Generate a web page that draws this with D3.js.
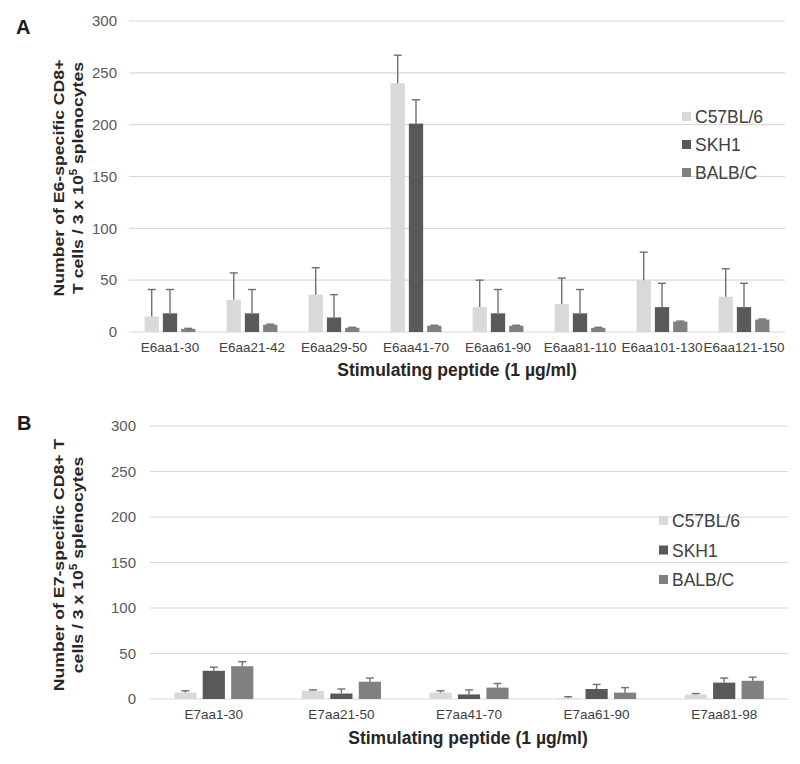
<!DOCTYPE html>
<html lang="en">
<head>
  <meta charset="UTF-8">
  <title>E6 / E7 specific CD8+ T cells</title>
  <style>
    body { margin: 0; background: #fff; }
    text { font-family: "Liberation Sans", Arial, sans-serif; }
  </style>
</head>
<body>
  <svg width="800" height="764" class="svgs"></svg>
  <script src="https://cdn.jsdelivr.net/npm/d3@7/dist/d3.min.js"></script>
  <script>
    const strains = ['C57BL/6', 'SKH1', 'BALB/C']
    const strainColors = ['#d9d9d9', '#595959', '#808080']
    const yTicks = [0, 50, 100, 150, 200, 250, 300]

    // panel A: E6 peptides
    const e6Peptides = ['E6aa1-30', 'E6aa21-42', 'E6aa29-50', 'E6aa41-70', 'E6aa61-90', 'E6aa81-110', 'E6aa101-130', 'E6aa121-150']
    const e6C57 = [15, 31, 36, 240, 24, 27, 50, 34]
    const e6SKH1 = [18, 18, 14, 201, 18, 18, 24, 24]
    const e6BALB = [3, 7, 4, 6, 6, 4, 10, 12]
    const e6C57Err = [26, 26, 26, 27, 26, 25, 27, 27]
    const e6SKH1Err = [23, 23, 22, 23, 23, 23, 23, 23]
    const e6BALBErr = [0.5, 0.5, 0.5, 0.5, 0.5, 0.5, 0.5, 0.5]

    // panel B: E7 peptides
    const e7Peptides = ['E7aa1-30', 'E7aa21-50', 'E7aa41-70', 'E7aa61-90', 'E7aa81-98']
    const e7C57 = [7, 9, 7, 1, 5]
    const e7SKH1 = [31, 6, 5, 11, 18]
    const e7BALB = [36, 19, 12.5, 7, 20]
    const e7C57Err = [2, 1, 2, 1.5, 1]
    const e7SKH1Err = [4, 5, 5, 5, 5]
    const e7BALBErr = [5, 4, 4.5, 5.5, 4]

    const svg = d3.select('.svgs')

    function drawPanel(p) {
      const g = svg.append('g')

      const x0 = d3.scaleBand()
        .domain(p.categories)
        .range([p.left, p.right])
        .paddingInner(0.38)
        .paddingOuter(0.19)

      const x1 = d3.scaleBand()
        .domain(strains)
        .range([0, x0.bandwidth()])
        .paddingInner(0.22)

      const y = d3.scaleLinear()
        .domain([0, 300])
        .range([p.bottom, p.top])

      // gridlines
      g.append('g')
        .selectAll('line')
        .data(yTicks)
        .join('line')
        .attr('x1', p.left)
        .attr('x2', p.right)
        .attr('y1', d => y(d))
        .attr('y2', d => y(d))
        .attr('stroke', '#d9d9d9')
        .attr('stroke-width', 1.2)

      const yAxis = d3.axisLeft(y).tickValues(yTicks).tickSize(0).tickPadding(p.tickPad)
      const ya = g.append('g').attr('transform', `translate(${p.left}, 0)`).call(yAxis)
      ya.select('.domain').remove()
      ya.selectAll('text').attr('font-size', '15px').attr('fill', '#595959')
        .style('font-family', '"Liberation Sans", Arial, sans-serif')

      const xAxis = d3.axisBottom(x0).tickSize(0).tickPadding(10)
      const xa = g.append('g').attr('transform', `translate(0, ${p.bottom})`).call(xAxis)
      xa.select('.domain').remove()
      xa.selectAll('text').attr('font-size', '13.5px').attr('fill', '#404040')
        .style('font-family', '"Liberation Sans", Arial, sans-serif')

      // bars + error bars
      strains.forEach((s, si) => {
        const vals = p.values[si]
        const errs = p.errors[si]
        const grp = g.append('g')
        p.categories.forEach((c, ci) => {
          const bx = x0(c) + x1(s)
          const bw = x1.bandwidth()
          grp.append('rect')
            .attr('x', bx)
            .attr('y', y(vals[ci]))
            .attr('width', bw)
            .attr('height', y(0) - y(vals[ci]))
            .attr('fill', strainColors[si])
          const cx = bx + bw / 2
          const top = y(vals[ci] + errs[ci])
          grp.append('line')
            .attr('x1', cx).attr('x2', cx)
            .attr('y1', y(vals[ci])).attr('y2', top)
            .attr('stroke', '#707070').attr('stroke-width', 1.4)
          grp.append('line')
            .attr('x1', cx - 4).attr('x2', cx + 4)
            .attr('y1', top).attr('y2', top)
            .attr('stroke', '#707070').attr('stroke-width', 1.4)
        })
      })

      // legend
      strains.forEach((s, si) => {
        const ly = p.legendY + si * p.legendStep
        g.append('rect')
          .attr('x', p.legendX)
          .attr('y', ly - 11)
          .attr('width', 9)
          .attr('height', 9)
          .attr('fill', strainColors[si])
        g.append('text')
          .attr('x', p.legendX + 13)
          .attr('y', ly)
          .attr('font-size', '17.5px')
          .attr('fill', '#404040')
          .text(s)
      })

      // y title, two rotated lines (reference looks stretched along the text)
      p.yTitle.forEach((line, li) => {
        const t = g.append('text')
          .attr('transform', `translate(${p.yTitleX + li * 19}, ${p.yTitleCenter}) rotate(-90) scale(1.14, 1)`)
          .attr('text-anchor', 'middle')
          .attr('font-size', '15.5px')
          .attr('font-weight', 'bold')
          .attr('fill', '#262626')
        if (line.indexOf('10^5') >= 0) {
          const parts = line.split('10^5')
          t.append('tspan').text(parts[0] + '10')
          t.append('tspan').text('5').attr('font-size', '10px').attr('dy', -6)
          t.append('tspan').text(parts[1]).attr('dy', 6)
        } else {
          t.text(line)
        }
      })

      // x title
      g.append('text')
        .attr('x', p.xTitleX)
        .attr('y', p.xTitleY)
        .attr('text-anchor', 'middle')
        .attr('font-size', '17.5px')
        .attr('font-weight', 'bold')
        .attr('fill', '#262626')
        .text('Stimulating peptide (1 µg/ml)')

      // panel letter
      g.append('text')
        .attr('x', p.letterX)
        .attr('y', p.letterY)
        .attr('font-size', '20px')
        .attr('font-weight', 'bold')
        .attr('fill', '#1a1a1a')
        .text(p.letter)
    }

    drawPanel({
      letter: 'A', letterX: 16, letterY: 34,
      categories: e6Peptides,
      values: [e6C57, e6SKH1, e6BALB],
      errors: [e6C57Err, e6SKH1Err, e6BALBErr],
      left: 129, right: 785, top: 21, bottom: 332, tickPad: 12,
      legendX: 682, legendY: 123, legendStep: 28,
      yTitle: ['Number of E6-specific CD8+', 'T cells /  3 x 10^5 splenocytes'],
      yTitleX: 64, yTitleCenter: 178,
      xTitleX: 457, xTitleY: 376
    })

    drawPanel({
      letter: 'B', letterX: 17, letterY: 430,
      categories: e7Peptides,
      values: [e7C57, e7SKH1, e7BALB],
      errors: [e7C57Err, e7SKH1Err, e7BALBErr],
      left: 150, right: 788, top: 426, bottom: 699, tickPad: 14,
      legendX: 659, legendY: 527, legendStep: 29.5,
      yTitle: ['Number of E7-specific CD8+ T', 'cells / 3 x 10^5 splenocytes'],
      yTitleX: 64, yTitleCenter: 565,
      xTitleX: 468, xTitleY: 744
    })
  </script>
</body>
</html>
